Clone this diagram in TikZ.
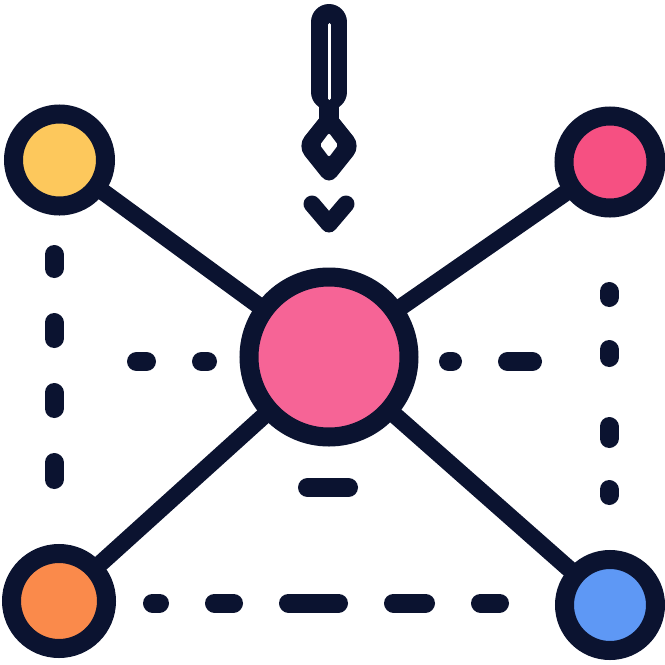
\documentclass[tikz,border=0pt]{standalone}
\usetikzlibrary{arrows}

\definecolor{ink}{HTML}{0B1330}
\definecolor{sun}{HTML}{FDC85C}
\definecolor{rose}{HTML}{F65082}
\definecolor{hubpink}{HTML}{F66496}
\definecolor{tangerine}{HTML}{FA8A4B}
\definecolor{sky}{HTML}{5E98F5}

\begin{document}
\begin{tikzpicture}[
                x = 1pt, y = -1pt, % pixel grid, y downwards
                color = ink, % line colour
                line width = 19pt, line cap = round % line style
            ]

            \tikzstyle{every node}=[draw = ink, circle, inner sep = 0pt,
            line width = 19pt, minimum size = 92pt]
            \tikzstyle{link}=[line width = 17pt]
            \tikzstyle{dashbit}=[line width = 19pt]

            \useasboundingbox (0,0) rectangle (665,665);

            \node (hub) [fill = hubpink, minimum size = 160pt] at (329,357) {};
            \node (tl) [fill = sun] at (59.5,160) {}; \node (tr) [fill = rose]
            at (610,162) {}; \node (bl) [fill = tangerine, minimum size = 95pt]
            at (59,601) {}; \node (br) [fill = sky, minimum size = 91pt] at
            (610,605) {};

            \path[link] (tl) edge (hub); \path[link] (tr) edge (hub);
            \path[link] (hub) edge (bl); \path[link] (hub) edge (br);

            % needle, eye and tip above the hub
            \draw[line width = 36pt] (329,22) -- (329,92); \draw[white, line
            width = 3pt] (329,24.5) -- (329,98.5); \draw[line width = 20pt,
            line cap = butt] (329,100) -- (329,126); \fill[ink, rounded
            corners = 12pt] (329,106) -- (361,146) -- (329,186) -- (297,146) --
            cycle; \fill[white, rounded corners = 2pt] (329,133) -- (338,145)
            -- (329,157) -- (320,145) -- cycle; \draw[line width = 17pt, line
            join = round] (312,204) -- (329,224) -- (346,204);

            % left and right guides
            \draw[dashbit] (54,254.5) -- (54,268.5); \draw[dashbit] (54,322.5)
            -- (54,338.5); \draw[dashbit] (54,392.5) -- (54,408.5);
            \draw[dashbit] (54,462.5) -- (54,479.5);
            \draw[dashbit] (609,291.5) -- (609,297.5); \draw[dashbit]
            (609,349.5) -- (609,357.5); \draw[dashbit] (609,426.5) --
            (609,438.5); \draw[dashbit] (609,489.5) -- (609,495.5);

            % middle and bottom guides
            \draw[dashbit] (136.5,361.5) -- (146.5,361.5); \draw[dashbit]
            (201.5,361.5) -- (207.5,361.5); \draw[dashbit] (448.5,361.5) --
            (452.5,361.5); \draw[dashbit] (507.5,361.5) -- (532.5,361.5);
            \draw[dashbit] (307.5,487.5) -- (348.5,487.5);
            \draw[dashbit] (152.5,603) -- (159.5,603); \draw[dashbit]
            (214.5,603) -- (233.5,603); \draw[dashbit] (288.5,603) --
            (338.5,603); \draw[dashbit] (393.5,603) -- (425.5,603);
            \draw[dashbit] (480.5,603) -- (499.5,603);

        \end{tikzpicture}
\end{document}
